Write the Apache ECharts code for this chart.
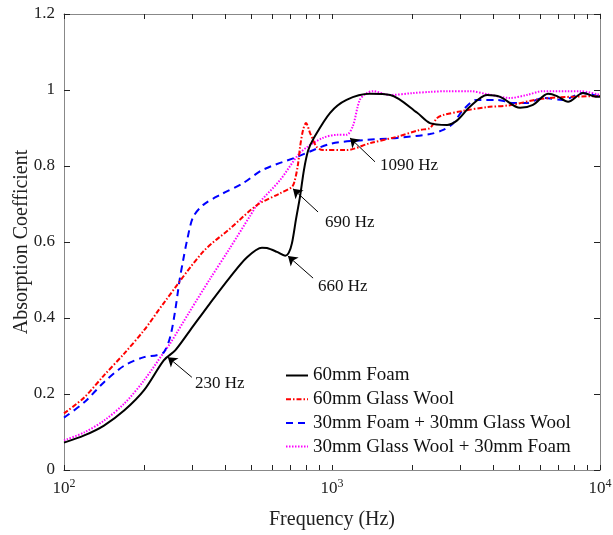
<!DOCTYPE html>
<html>
<head>
<meta charset="utf-8">
<script src="https://cdn.jsdelivr.net/npm/echarts@6/dist/echarts.min.js"></script>
<style>
  html, body { margin: 0; padding: 0; background: #fff; }
  #chart { width: 613px; height: 535px; }
</style>
</head>
<body>
<div id="chart"></div>
<script>
// [frequency Hz, absorption coefficient]
var foam = [[100,0.072],[119,0.091],[141,0.117],[168,0.157],[199,0.21],[236,0.289],[260,0.315],[295,0.367],
  [350,0.438],[416,0.507],[482,0.56],[548,0.585],[572,0.584],[623,0.574],[669,0.564],[690,0.572],[709,0.597],
  [734,0.66],[760,0.72],[786,0.79],[814,0.84],[850,0.87],[984,0.94],[1133,0.974],[1385,0.99],[1650,0.987],
  [2080,0.94],[2320,0.913],[2690,0.908],[2930,0.92],[3270,0.956],[3790,0.987],[4240,0.982],[5030,0.953],
  [5620,0.961],[6400,0.99],[6910,0.984],[7600,0.969],[8640,0.992],[9745,0.982],[10000,0.982]];

var glassWool = [[100,0.149],[119,0.191],[141,0.249],[168,0.307],[199,0.368],[236,0.44],[330,0.574],
  [416,0.635],[525,0.697],[640,0.728],[709,0.745],[725,0.76],[745,0.8],[760,0.85],[780,0.895],[800,0.913],
  [829,0.886],[877,0.85],[925,0.842],[1133,0.842],[1385,0.86],[1750,0.877],[2130,0.895],[2320,0.9],
  [2465,0.926],[2600,0.934],[3080,0.945],[3790,0.955],[4620,0.96],[5820,0.975],[7090,0.981],[10000,0.984]];

var foamGlass = [[100,0.138],[119,0.178],[141,0.231],[168,0.275],[199,0.297],[222,0.302],[236,0.31],[249,0.35],
  [260,0.42],[270,0.5],[278,0.55],[288,0.605],[303,0.665],[330,0.697],[382,0.724],[466,0.755],[552,0.79],
  [741,0.824],[984,0.858],[1305,0.868],[1750,0.874],[2320,0.884],[2600,0.895],[2830,0.912],[3080,0.947],
  [3460,0.974],[4130,0.974],[4740,0.966],[5340,0.966],[6130,0.979],[7275,0.974],[8640,0.992],[10000,0.982]];

var glassFoam = [[100,0.078],[119,0.099],[141,0.13],[168,0.175],[199,0.236],[236,0.31],[249,0.333],[295,0.418],
  [350,0.502],[416,0.584],[494,0.668],[525,0.697],[640,0.763],[749,0.83],[808,0.85],[925,0.874],
  [1043,0.882],[1133,0.882],[1196,0.905],[1270,0.974],[1350,0.992],[1420,0.997],[1650,0.987],[2005,0.992],
  [2320,0.995],[2690,0.997],[3270,0.997],[3790,0.989],[4620,0.979],[5340,0.987],[6130,0.997],[8420,0.997],
  [10000,0.987]];

var seriesNames = ['60mm Foam', '60mm Glass Wool', '30mm Foam + 30mm Glass Wool', '30mm Glass Wool + 30mm Foam'];

var xTicks = [100,200,300,400,500,600,700,800,900,1000,2000,3000,4000,5000,6000,7000,8000,9000,10000];
var xLabels = [100, 1000, 10000];

// annotations: label text, [tail], [tip], [text position]
var notes = [
  {text: '230 Hz',  tail: [300, 0.244],  tip: [244, 0.297],  at: [308, 0.228]},
  {text: '660 Hz',  tail: [850, 0.505],  tip: [685, 0.563],  at: [887, 0.484]},
  {text: '690 Hz',  tail: [887, 0.679],  tip: [715, 0.740],  at: [942, 0.650]},
  {text: '1090 Hz', tail: [1447, 0.811], tip: [1167, 0.874], at: [1510, 0.800]}
];

var font = 'Liberation Serif';

var myChart = echarts.init(document.getElementById('chart'));

// main axes carry labels and names, tick-only axes draw the inward ticks
function xMain() {
  return {
    type: 'log', logBase: 10, min: 100, max: 10000, position: 'bottom',
    name: 'Frequency (Hz)', nameLocation: 'middle', nameGap: 40, nameMoveOverlap: false,
    nameTextStyle: {fontFamily: font, fontSize: 20, color: '#222'},
    axisLine: {show: true, onZero: false, lineStyle: {color: '#888'}},
    axisTick: {show: false},
    axisLabel: {
      show: true, customValues: xLabels, margin: 8,
      formatter: function (v) { return '{b|10}{s|' + Math.round(Math.log10(v)) + '}'; },
      rich: {
        b: {fontFamily: font, fontSize: 17, color: '#222'},
        s: {fontFamily: font, fontSize: 12, color: '#222', padding: [0, 0, 9, 0]}
      }
    },
    splitLine: {show: false}
  };
}
function xTickAxis(pos) {
  return {
    type: 'log', logBase: 10, min: 100, max: 10000, position: pos,
    axisLine: {show: true, onZero: false, lineStyle: {color: '#888'}},
    axisTick: {show: true, inside: true, length: 5, customValues: xTicks, lineStyle: {color: '#222'}},
    axisLabel: {show: false},
    splitLine: {show: false}
  };
}
function yMain() {
  return {
    type: 'value', min: 0, max: 1.2, interval: 0.2, position: 'left',
    name: 'Absorption Coefficient', nameLocation: 'middle', nameGap: 32, nameMoveOverlap: false,
    nameTextStyle: {fontFamily: font, fontSize: 20, color: '#222'},
    axisLine: {show: true, lineStyle: {color: '#888'}},
    axisTick: {show: false},
    axisLabel: {show: true, fontFamily: font, fontSize: 17, color: '#222', margin: 9},
    splitLine: {show: false}
  };
}
function yTickAxis(pos) {
  return {
    type: 'value', min: 0, max: 1.2, interval: 0.2, position: pos,
    axisLine: {show: true, lineStyle: {color: '#888'}},
    axisTick: {show: true, inside: true, length: 6, lineStyle: {color: '#222'}},
    axisLabel: {show: false},
    splitLine: {show: false}
  };
}

var lineStyles = [
  {color: '#000000', width: 2, type: 'solid'},
  {color: '#ff0000', width: 2, type: [5, 2, 1.5, 2]},
  {color: '#0000ff', width: 2, type: [7, 5]},
  {color: '#ff00ff', width: 2, type: [1.5, 1.5]}
];
var datas = [foam, glassWool, foamGlass, glassFoam];

var series = datas.map(function (d, i) {
  return {
    name: seriesNames[i], type: 'line', data: d,
    showSymbol: false, symbol: 'none', smooth: 0.3,
    lineStyle: lineStyles[i], itemStyle: {color: lineStyles[i].color},
    z: 4 - i
  };
});

// arrows and their labels
series.push({
  name: 'notes', type: 'line', data: [], silent: true,
  markLine: {
    silent: true, symbol: ['none', 'arrow'], symbolSize: 9,
    label: {show: false},
    lineStyle: {color: '#000', width: 1, type: 'solid'},
    data: notes.map(function (n) { return [{coord: n.tail}, {coord: n.tip}]; })
  },
  markPoint: {
    silent: true, symbol: 'circle', symbolSize: 0,
    label: {show: true, position: 'right', distance: 0, fontFamily: font, fontSize: 17, color: '#111',
      formatter: function (p) { return p.name; }},
    data: notes.map(function (n) { return {name: n.text, coord: n.at}; })
  }
});

var option = {
  animation: false,
  backgroundColor: '#fff',
  grid: {left: 64, right: 13, top: 14, bottom: 65, outerBoundsMode: 'none'},
  legend: {
    data: seriesNames, orient: 'vertical', left: 285, top: 366, padding: 0,
    itemWidth: 22, itemHeight: 4, itemGap: 4.7,
    itemStyle: {opacity: 0},
    textStyle: {fontFamily: font, fontSize: 19, color: '#111'}
  },
  xAxis: [xMain(), xTickAxis('bottom'), xTickAxis('top')],
  yAxis: [yMain(), yTickAxis('left'), yTickAxis('right')],
  series: series
};

myChart.setOption(option, true);
</script>
</body>
</html>
